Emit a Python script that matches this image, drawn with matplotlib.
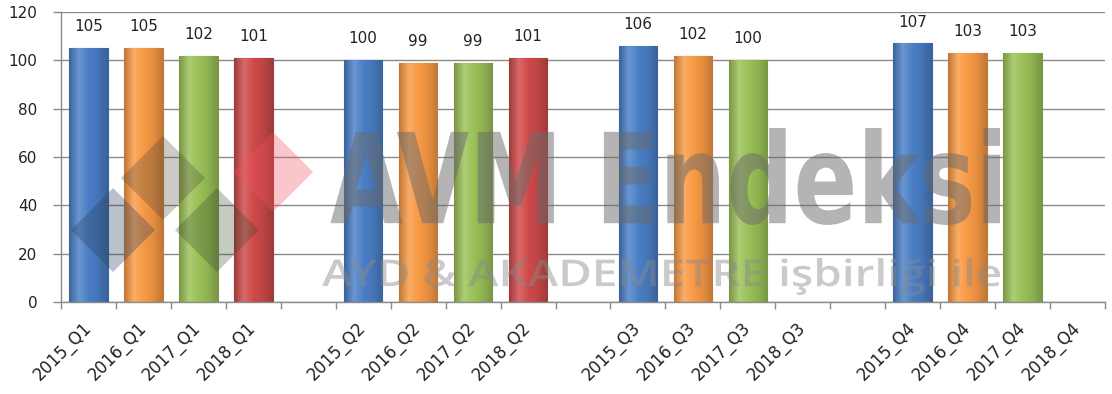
import numpy as np
import matplotlib
matplotlib.use("Agg")
import matplotlib.pyplot as plt
from matplotlib.colors import LinearSegmentedColormap, to_rgb
from matplotlib.textpath import TextPath
from matplotlib.font_manager import FontProperties
from matplotlib.patches import PathPatch, Polygon
from matplotlib.path import Path

# ---------------- data ----------------
labels = ["2015_Q1", "2016_Q1", "2017_Q1", "2018_Q1", "",
          "2015_Q2", "2016_Q2", "2017_Q2", "2018_Q2", "",
          "2015_Q3", "2016_Q3", "2017_Q3", "2018_Q3", "",
          "2015_Q4", "2016_Q4", "2017_Q4", "2018_Q4"]
values = [105, 105, 102, 101, None,
          100, 99, 99, 101, None,
          106, 102, 100, None, None,
          107, 103, 103, None]
years = ["2015", "2016", "2017", "2018"]
year_colors = ["#4A7FC6", "#F89A45", "#9BC158", "#CF4A4A"]
y_ticks = [0, 20, 40, 60, 80, 100, 120]
watermark_title = "AVM Endeksi"
watermark_sub = "AYD & AKADEMETRE işbirliği ile"

W, H = 1112, 394
fig = plt.figure(figsize=(W / 100, H / 100), dpi=100)
fig.patch.set_facecolor("white")
ax = fig.add_axes([61 / W, 1 - 302 / H, (1105 - 61) / W, 290 / H])

x = np.arange(len(labels))
color_of = dict(zip(years, year_colors))

grid_c = "#8a8a8a"
for yt in y_ticks:
    ax.axhline(yt, color=grid_c, lw=1.0, zorder=0.5)

bar_w = 0.7
for xi, v, lab in zip(x, values, labels):
    if v is None:
        continue
    base = np.array(to_rgb(color_of[lab.split("_")[0]]))
    dark = np.clip(base * 0.78, 0, 1)
    light = np.clip(base + (1 - base) * 0.18, 0, 1)
    cmap = LinearSegmentedColormap.from_list(
        "g", [dark, light, base, base * 0.92, dark])
    bars = ax.bar(xi, v, width=bar_w, color=base, edgecolor=dark,
                  linewidth=0.8, zorder=2)
    p = bars.patches[0]
    grad = np.linspace(0, 1, 64).reshape(1, -1)
    im = ax.imshow(grad, extent=[xi - bar_w / 2, xi + bar_w / 2, 0, v],
                   aspect="auto", cmap=cmap, zorder=2.1, origin="lower")
    im.set_clip_path(p)
    ax.annotate(str(v), (xi, v), xytext=(0, 10), textcoords="offset points",
                ha="center", va="bottom", fontsize=11, color="#222222",
                zorder=5)

ax.set_xlim(-0.5, len(labels) - 0.5)
ax.set_ylim(0, 120)
ax.set_aspect("auto")

# ticks: major at category boundaries, labels at centers
ax.set_xticks(np.arange(-0.5, len(labels) + 0.5, 1.0))
ax.set_xticklabels([])
ax.set_xticks(x, minor=True)
ax.set_xticklabels(labels, minor=True, rotation=45, ha="right",
                   va="center", rotation_mode="anchor", fontsize=12,
                   color="#222222")
ax.tick_params(axis="x", which="major", length=5, color=grid_c, width=1)
ax.tick_params(axis="x", which="minor", length=0, pad=17)
ax.set_yticks(y_ticks)
ax.set_yticklabels([str(t) for t in y_ticks], fontsize=11, color="#222222")
ax.tick_params(axis="y", length=6, color=grid_c, width=1, pad=11)

for s in ["top", "right"]:
    ax.spines[s].set_visible(False)
for s in ["left", "bottom"]:
    ax.spines[s].set_color(grid_c)
    ax.spines[s].set_linewidth(1.0)

# ---------------- watermark ----------------
def fitted_text(txt, box, weight, color, alpha, family="DejaVu Sans"):
    fp = FontProperties(family=family, weight=weight)
    tp = TextPath((0, 0), txt, size=100, prop=fp)
    v = tp.vertices.copy()
    x0, y0 = v.min(axis=0)
    x1, y1 = v.max(axis=0)
    bx0, by0, bx1, by1 = box  # pixels, top-origin
    sx = (bx1 - bx0) / (x1 - x0)
    sy = (by1 - by0) / (y1 - y0)
    px = bx0 + (v[:, 0] - x0) * sx
    py = by1 - (v[:, 1] - y0) * sy
    nv = np.column_stack([px / W, 1 - py / H])
    path = Path(nv, tp.codes)
    patch = PathPatch(path, facecolor=color, edgecolor="none", alpha=alpha,
                      transform=fig.transFigure, zorder=10)
    fig.add_artist(patch)

fitted_text(watermark_title, (330, 128, 1000, 225), "bold", "#6a6a6a", 0.5)
fitted_text(watermark_sub, (322, 258, 1000, 295), "semibold", "#8a8a8a", 0.45,
            family="Open Sans")

def diamond(cx, cy, r, color, alpha):
    pts = [(cx, cy - r), (cx + r, cy), (cx, cy + r), (cx - r, cy)]
    pts = [(px / W, 1 - py / H) for px, py in pts]
    fig.add_artist(Polygon(pts, closed=True, facecolor=color,
                           edgecolor="none", alpha=alpha,
                           transform=fig.transFigure, zorder=9))

diamond(113, 230, 42, "#2a3f5a", 0.32)
diamond(163, 178, 42, "#4a4038", 0.28)
diamond(217, 230, 42, "#33452a", 0.28)
diamond(273, 172, 40, "#f0505e", 0.32)

fig.savefig("out.png", dpi=100)
